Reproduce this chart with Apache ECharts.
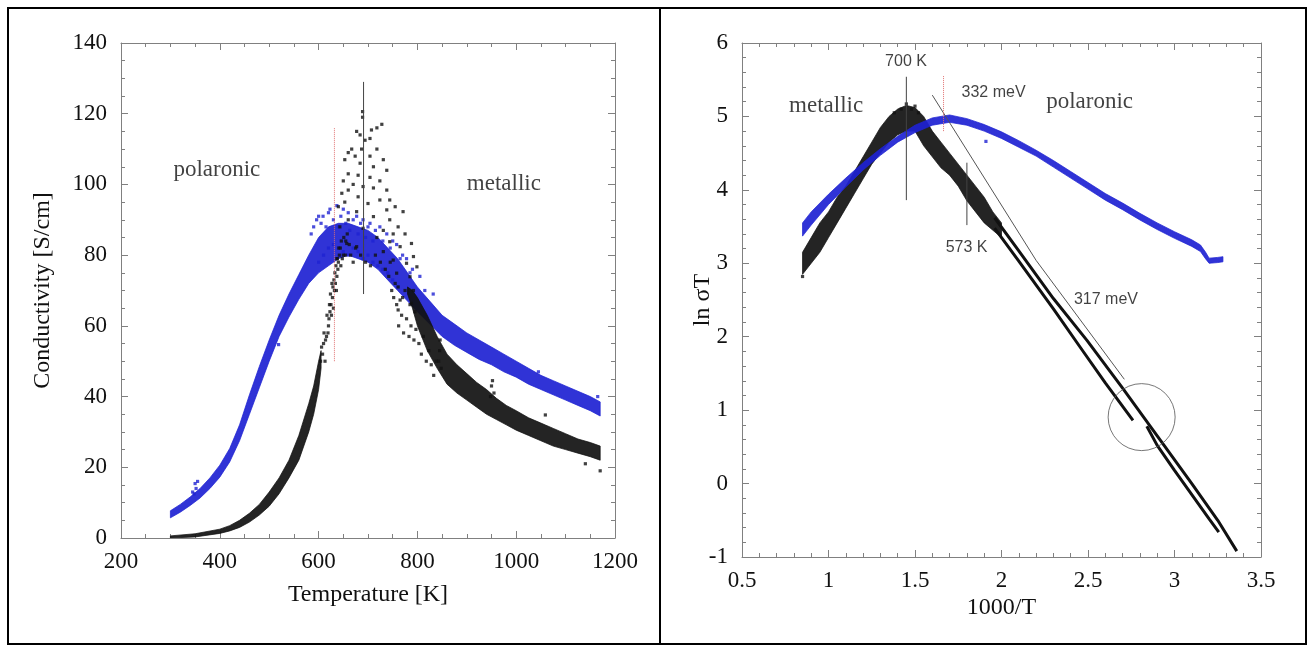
<!DOCTYPE html>
<html><head><meta charset="utf-8">
<script src="https://cdn.jsdelivr.net/npm/echarts/dist/echarts.min.js"></script>
<style>html,body{margin:0;padding:0;background:#fff}#c{width:1314px;height:651px}</style>
</head><body><div id="c"></div><script>
// ---------- Left panel: Conductivity [S/cm] vs Temperature [K] ----------
var leftXTicks = [200, 400, 600, 800, 1000, 1200];
var leftYTicks = [0, 20, 40, 60, 80, 100, 120, 140];
// blue band (upper / lower edges)
var blueLUp = [[300,7.7],[320,9.5],[340,11.6],[360,14],[380,17],[400,20.6],[420,25.3],[440,32],[460,40.5],[480,48.5],[500,56],[520,63],[540,69],[560,74.5],[580,80],[600,85],[620,88],[640,89],[660,89],[680,88],[700,87],[720,85],[740,82],[760,79],[780,75],[800,71],[825,67],[850,63],[875,60.5],[900,58],[925,56],[950,54],[975,52],[1000,50],[1025,48],[1050,46],[1075,44.5],[1100,43],[1125,41.5],[1150,40],[1170,38.5]];
var blueLLo = [[300,5.7],[320,7.3],[340,9.2],[360,11.3],[380,14],[400,17.2],[420,21.5],[440,27.5],[460,35],[480,42.5],[500,50],[520,57],[540,62.5],[560,67.5],[580,72],[600,75],[620,77],[640,79],[660,80],[680,79],[700,78],[720,76],[740,73],[760,70],[780,67],[800,64],[825,60.5],[850,57],[875,54.5],[900,52.5],[925,50.5],[950,49],[975,47],[1000,45.5],[1025,43.5],[1050,42],[1075,40.5],[1100,39],[1125,37.5],[1150,36],[1170,34.5]];
var blueLDots = [[345,13],[350,15.4],[352,14],[355,16],[348,12.5],[585,86],[590,88],[596,90],[600,91],[605,89],[609,91],[615,88],[620,92],[623,93],[630,90],[637,94],[640,88],[645,91],[650,93],[655,89],[660,92],[663,87],[670,90],[677,91],[680,86],[685,89],[690,90],[695,85],[700,88],[704,89],[710,84],[715,87],[724,88],[730,84],[738,86],[745,82],[750,84],[758,83],[765,79],[770,80],[778,79],[785,75],[790,76],[805,74],[815,70],[832,69],[600,78],[610,80],[620,82],[630,83],[640,82],[650,81],[660,80],[670,82],[680,81],[690,79],[700,80],[710,78],[720,77],[730,76],[740,75],[750,73],[760,71],[519,54.7],[1045,47],[1165,40]];
// black band (upper / lower edges)
var blackLUp = [[300,0.6],[350,1.2],[400,2.5],[420,3.5],[440,5],[460,7],[480,9.5],[500,13],[520,17],[540,22],[560,29],[580,38],[590,43],[600,50],[605,53]];
var blackLLo = [[300,0],[350,0.3],[400,1.3],[420,2],[440,3],[460,4.5],[480,6.5],[500,9],[520,12.5],[540,17],[560,22],[580,30],[590,35],[600,42],[605,48]];
var blackLUp2 = [[780,71],[790,70],[800,68],[820,63],[840,57],[860,52],[880,49],[900,46.5],[920,44],[940,42],[960,39.5],[980,37.5],[1000,36],[1025,34],[1050,32.5],[1075,31],[1100,29.5],[1125,28],[1150,27],[1170,26]];
var blackLLo2 = [[780,69],[790,65],[800,60],[820,53],[840,48],[860,43.5],[880,41],[900,39],[920,37],[940,35],[960,33.5],[980,32],[1000,30.5],[1025,29],[1050,27.5],[1075,26],[1100,25],[1125,24],[1150,23],[1170,22]];
var blackLDots = [[689,120.6],[689,119],[728,117],[718,116],[707,115.4],[677,115],[684,114],[704,113],[694,112.5],[667,110],[687,110],[718,110],[660,109],[674,108],[704,108],[731,107],[653,107],[684,106],[711,105],[738,104],[660,103],[680,102.6],[704,102],[650,101],[724,101],[670,100],[690,99.4],[660,98.4],[711,99],[738,98.4],[647,97.5],[680,96.5],[724,95.6],[744,95.6],[653,95],[700,94.6],[755,93.7],[738,92.8],[640,93.7],[677,92.3],[771,92.3],[711,90.9],[744,90],[660,90],[761,88],[643,88],[690,87.6],[731,87],[751,86],[775,86],[718,85],[744,83.8],[788,83.3],[657,83.3],[765,82.4],[677,82.4],[731,81],[792,79.6],[751,78.6],[637,79],[778,77.7],[799,76.7],[758,74.9],[785,73.9],[761,71],[792,70],[765,67.3],[788,66.4],[761,64.5],
  [604,50],[606,54],[608,52],[610,55],[611,58],[613,50],[614,56],[616,57],[617,63],[619,58],[620,60],[621,62],[622,66],[623,64],[624,69],[625,66],[626,63],[627,72],[628,68],[629,71],[630,65],[631,73],[632,70],[633,75],[634,72],[635,77],[636,70],[637,74],[638,79],[639,76],[640,78],[641,82],[642,80],[644,82],[645,77],[646,84],[648,79],[650,80],[651,85],[654,80],[655,84],[658,86],[662,83],[665,80],[670,78],[675,82],[685,80],[695,78],[705,77],[715,80],[725,78],[735,76],[745,78],[755,72],[770,68],[775,70],[785,66],[795,64],[742,74],[748,70],[752,68],[758,66],[762,60],[768,63],[772,58],[778,62],[783,57],[787,60],[793,56],[797,59],[803,55],[808,52],[812,57],[818,50],[823,53],[828,49],[833,46],[838,50],[843,50],[845,53],[846,56],[848,48],[948,40],[950,43],[952,44.5],[955,41],[1059,34.8],[1170,19],[1140,21]];
var leftRedMarker = [[632,50],[632,116]];
var leftBlackMarker = [[691,69],[691,129]];
var leftLabels = [{value:[394,104],name:'polaronic'},{value:[975,100],name:'metallic'}];

// ---------- Right panel: ln sigmaT vs 1000/T ----------
var rightXTicks = [0.5, 1, 1.5, 2, 2.5, 3, 3.5];
var rightYTicks = [-1, 0, 1, 2, 3, 4, 5, 6];
var blueRUp = [[0.85,3.55],[0.9,3.7],[1.0,3.94],[1.1,4.16],[1.2,4.37],[1.3,4.56],[1.4,4.73],[1.5,4.88],[1.6,4.98],[1.7,5.02],[1.8,4.97],[1.9,4.89],[2.0,4.79],[2.1,4.67],[2.2,4.54],[2.3,4.4],[2.4,4.25],[2.5,4.1],[2.6,3.95],[2.7,3.82],[2.8,3.68],[2.9,3.55],[3.0,3.43],[3.1,3.32],[3.15,3.25],[3.18,3.15],[3.2,3.07],[3.25,3.08],[3.28,3.09]];
var blueRLo = [[0.85,3.37],[0.9,3.52],[1.0,3.8],[1.1,4.04],[1.2,4.27],[1.3,4.47],[1.4,4.65],[1.5,4.78],[1.6,4.88],[1.7,4.92],[1.8,4.88],[1.9,4.8],[2.0,4.7],[2.1,4.58],[2.2,4.46],[2.3,4.31],[2.4,4.16],[2.5,4.01],[2.6,3.86],[2.7,3.73],[2.8,3.59],[2.9,3.46],[3.0,3.34],[3.1,3.23],[3.15,3.16],[3.18,3.06],[3.2,3.0],[3.25,3.01],[3.28,3.02]];
var blueRDots = [[1.91,4.66]];
var blackRUp = [[0.85,3.15],[0.9,3.35],[0.95,3.55],[1.0,3.7],[1.05,3.9],[1.1,4.05],[1.15,4.25],[1.2,4.45],[1.25,4.65],[1.3,4.85],[1.35,5.0],[1.4,5.1],[1.45,5.15],[1.5,5.12],[1.55,5.0],[1.6,4.8],[1.65,4.65],[1.7,4.5],[1.75,4.35],[1.8,4.2],[1.85,4.05],[1.9,3.9],[1.95,3.7],[2.0,3.55]];
var blackRLo = [[0.85,2.85],[0.9,3.0],[0.95,3.15],[1.0,3.35],[1.05,3.55],[1.1,3.75],[1.15,3.95],[1.2,4.15],[1.25,4.35],[1.3,4.5],[1.35,4.65],[1.4,4.75],[1.45,4.8],[1.5,4.8],[1.55,4.6],[1.6,4.45],[1.65,4.3],[1.7,4.2],[1.75,4.05],[1.8,3.85],[1.85,3.7],[1.9,3.55],[1.95,3.45],[2.0,3.35]];
var blackRLineA = [[1.96,3.62],[2.1,3.17],[2.3,2.52],[2.494,1.95],[2.7,1.3],[2.9,0.65],[3.1,0.0],[3.25,-0.5],[3.36,-0.92]];
var blackRLineB1 = [[1.96,3.48],[2.1,3.03],[2.3,2.38],[2.454,1.86],[2.6,1.37],[2.76,0.86]];
var blackRLineB2 = [[2.84,0.78],[2.9,0.52],[3.0,0.18],[3.1,-0.15],[3.2,-0.48],[3.256,-0.66]];
var blackRDots = [[0.85,2.82],[1.38,5.05],[1.42,5.1],[1.45,5.17],[1.48,5.1],[1.5,5.14],[1.52,5.05]];
var fitLine = [[1.6,5.29],[2.2,3.04],[2.71,1.42]];
var marker700 = [[1.45,3.86],[1.45,5.54]];
var marker573 = [[1.8,3.52],[1.8,4.37]];
var rightRedMarker = [[1.665,4.8],[1.665,5.56]];
var circleCenter = [[2.81,0.905]];
var rightSerifLabels = [{value:[0.986,5.14],name:'metallic'},{value:[2.509,5.2],name:'polaronic'}];
var rightSansLabels = [{value:[1.448,5.74],name:'700 K'},{value:[1.954,5.32],name:'332 meV'},{value:[1.798,3.22],name:'573 K'},{value:[2.604,2.51],name:'317 meV'}];

var BLUE = '#1e22d2', BLACK = '#111', AX = '#808080';
var SERIF = 'Liberation Serif', SANS = 'Liberation Sans';
function plain(v){ return String(v); }

function xAx(grid, min, max, interval, split, pos, name, gap) {
  return {type:'value', gridIndex:grid, position:pos, min:min, max:max, interval:interval,
    name: name || '', nameLocation:'middle', nameGap: gap || 0, nameMoveOverlap:false,
    nameTextStyle:{fontFamily:SERIF, fontSize:24, color:'#111'},
    axisLine:{show:true, onZero:false, lineStyle:{color:AX, width:1}},
    axisTick:{show:true, inside:true, length:7, lineStyle:{color:AX}},
    minorTick:{show:true, splitNumber:split, length:4, lineStyle:{color:AX}},
    axisLabel:{show: pos==='bottom', margin:12, fontFamily:SERIF, fontSize:23, color:'#111', formatter:plain},
    splitLine:{show:false}};
}
function yAx(grid, min, max, interval, split, pos, name, gap) {
  return {type:'value', gridIndex:grid, position:pos, min:min, max:max, interval:interval,
    name: name || '', nameLocation:'middle', nameGap: gap || 0, nameMoveOverlap:false,
    nameTextStyle:{fontFamily:SERIF, fontSize:24, color:'#111'},
    axisLine:{show:true, onZero:false, lineStyle:{color:AX, width:1}},
    axisTick:{show:true, inside:true, length:7, lineStyle:{color:AX}},
    minorTick:{show:true, splitNumber:split, length:4, lineStyle:{color:AX}},
    axisLabel:{show: pos==='left', margin:14, fontFamily:SERIF, fontSize:23, color:'#111', formatter:plain},
    splitLine:{show:false}};
}
function band(up, lo, color, xi, yi) {
  return {type:'custom', xAxisIndex:xi, yAxisIndex:yi, clip:true, silent:true, z:2,
    data:[up[0]],
    renderItem:function(params, api){
      var pts = [];
      for (var i=0;i<up.length;i++) pts.push(api.coord(up[i]));
      for (var j=lo.length-1;j>=0;j--) pts.push(api.coord(lo[j]));
      return {type:'polygon', shape:{points:pts}, style:{fill:color, stroke:color, lineWidth:0.8, opacity:0.92}};
    }};
}
function dots(d, color, xi, yi, size) {
  return {type:'scatter', xAxisIndex:xi, yAxisIndex:yi, data:d, symbol:'rect', symbolSize:size||3.2,
    itemStyle:{color:color}, silent:true, z:3};
}
function seg(d, color, width, type, xi, yi, smooth) {
  return {type:'line', xAxisIndex:xi, yAxisIndex:yi, data:d, symbol:'none', smooth:!!smooth,
    lineStyle:{color:color, width:width, type:type||'solid'}, silent:true, z:4};
}
function labels(d, font, size, xi, yi) {
  return {type:'scatter', xAxisIndex:xi, yAxisIndex:yi, data:d, symbolSize:1, itemStyle:{color:'transparent'},
    label:{show:true, position:'inside', formatter:'{b}', fontFamily:font, fontSize:size, color:'#111'}, silent:true, z:6};
}

var chart = echarts.init(document.getElementById('c'), null, {renderer:'canvas'});
chart.setOption({
  animation:false,
  backgroundColor:'#fff',
  grid:[{left:121, top:43, width:494, height:495},{left:742, top:43, width:519, height:514}],
  xAxis:[xAx(0,200,1200,200,4,'bottom','Temperature [K]',45), xAx(0,200,1200,200,4,'top'),
         xAx(1,0.5,3.5,0.5,5,'bottom','1000/T',39), xAx(1,0.5,3.5,0.5,5,'top')],
  yAxis:[yAx(0,0,140,20,4,'left','Conductivity [S/cm]',66), yAx(0,0,140,20,4,'right'),
         yAx(1,-1,6,1,5,'left','ln \u03c3T',27), yAx(1,-1,6,1,5,'right')],
  graphic:[
    {type:'rect', shape:{x:8, y:8, width:1298, height:636}, style:{fill:'none', stroke:'#000', lineWidth:2}, silent:true},
    {type:'line', shape:{x1:660, y1:8, x2:660, y2:644}, style:{stroke:'#000', lineWidth:2}, silent:true}
  ],
  series:[
    band(blueLUp, blueLLo, BLUE, 0, 0),
    dots(blueLDots, BLUE, 0, 0),
    band(blackLUp, blackLLo, BLACK, 0, 0),
    band(blackLUp2, blackLLo2, BLACK, 0, 0),
    dots(blackLDots, BLACK, 0, 0),
    seg(leftRedMarker, '#e07070', 1, 'dotted', 0, 0),
    seg(leftBlackMarker, '#444', 1, 'solid', 0, 0),
    labels(leftLabels, SERIF, 23, 0, 0),
    band(blackRUp, blackRLo, BLACK, 2, 2),
    seg(blackRLineA, BLACK, 3, 'solid', 2, 2),
    seg(blackRLineB1, BLACK, 3, 'solid', 2, 2),
    seg(blackRLineB2, BLACK, 3, 'solid', 2, 2),
    dots(blackRDots, BLACK, 2, 2),
    band(blueRUp, blueRLo, BLUE, 2, 2),
    dots(blueRDots, BLUE, 2, 2),
    seg(fitLine, '#555', 1, 'solid', 2, 2),
    seg(marker700, '#444', 1, 'solid', 2, 2),
    seg(marker573, '#444', 1, 'solid', 2, 2),
    seg(rightRedMarker, '#e07070', 1, 'dotted', 2, 2),
    {type:'scatter', xAxisIndex:2, yAxisIndex:2, data:circleCenter, symbol:'circle', symbolSize:67,
      itemStyle:{color:'rgba(0,0,0,0)', borderColor:'#555', borderWidth:1}, silent:true, z:5},
    labels(rightSerifLabels, SERIF, 23, 2, 2),
    labels(rightSansLabels, SANS, 16, 2, 2)
  ]
});
</script></body></html>
